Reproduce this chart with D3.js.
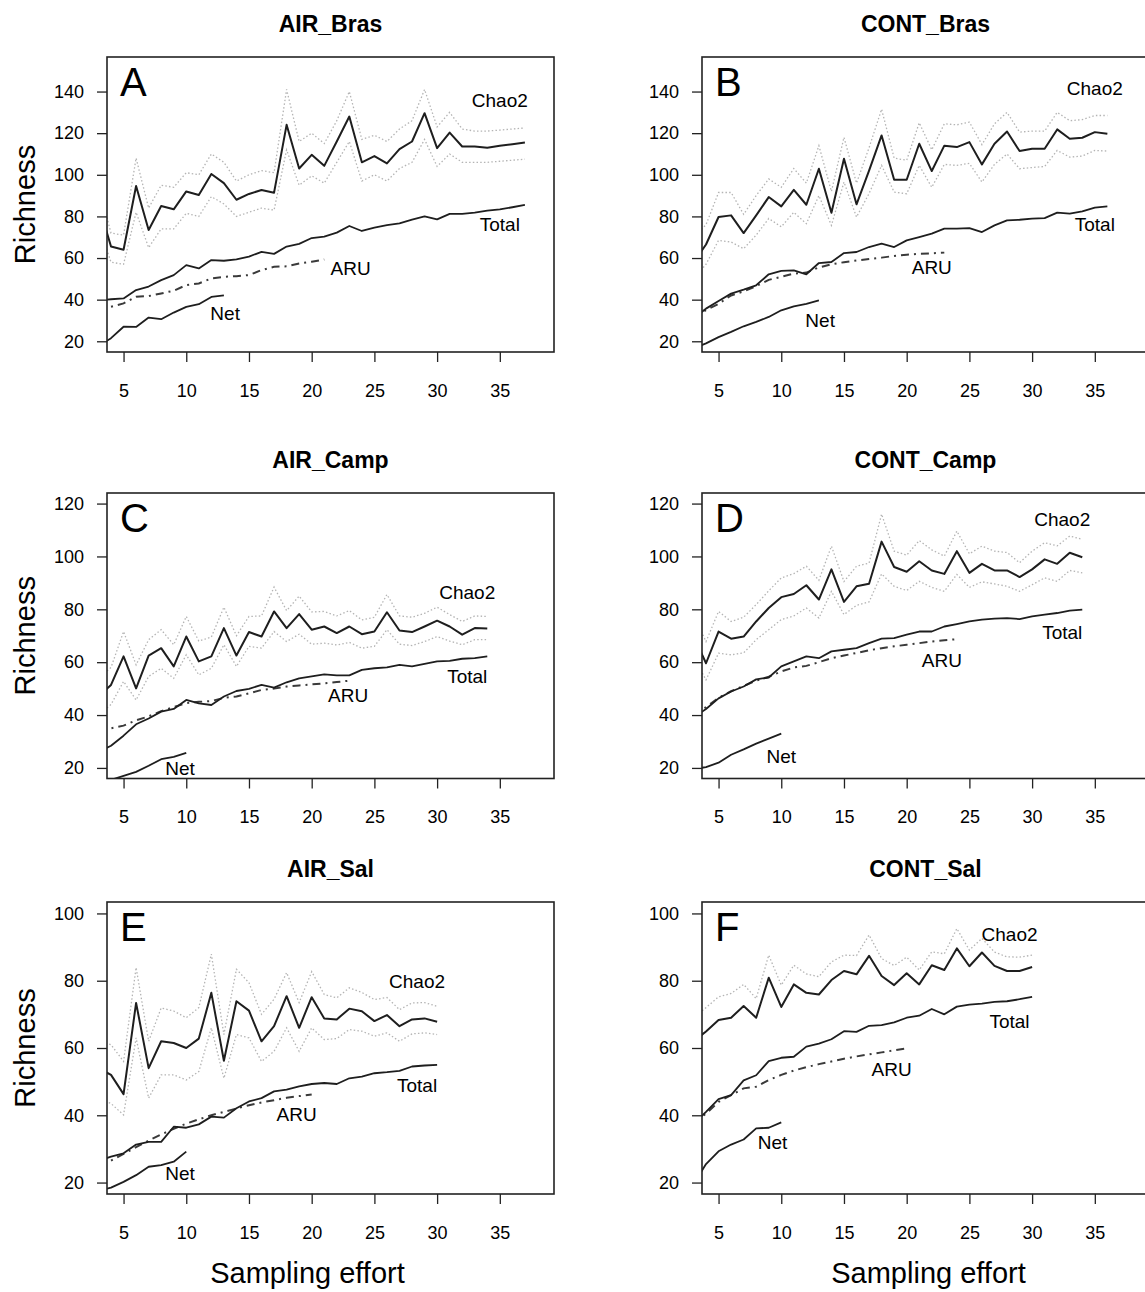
<!DOCTYPE html>
<html>
<head>
<meta charset="utf-8">
<script src="https://cdn.jsdelivr.net/npm/d3@7/dist/d3.min.js"></script>
<style>
  body { margin: 0; background: #fff; }
  text { font-family: "Liberation Sans", Arial, Helvetica, sans-serif; fill: #000; }
</style>
</head>
<body>
<svg id="chart"></svg>
<script>
// every series starts at sampling effort 3 (first point is clipped by the box)
const firstX = 3;
const xTicks = [5, 10, 15, 20, 25, 30, 35];

// A - AIR_Bras
const chaoA = [86, 65.5, 64, 94.6, 73.5, 85, 83.4, 92, 90.3, 100.4, 96, 88, 90.8, 92.7, 91.4, 124, 103, 109.6, 104.3, 116, 128, 106, 109, 105.5, 112.3, 116, 129.6, 112.8, 120.3, 113.6, 113.6, 113, 113.9, 114.7, 115.5];
const upA = [95, 72, 71, 108, 84, 95, 94, 101, 100, 110, 106, 97, 100, 102, 101, 141, 116, 120, 115, 126, 140, 117, 119, 116, 122, 126, 141, 123, 130, 122, 121, 121, 121.5, 122, 122.5];
const loA = [76, 58, 57, 82, 65, 74, 74, 81.5, 80, 89.5, 86, 80, 82, 84, 83, 112, 95, 99.5, 96, 106, 116, 97, 100, 97, 103, 106, 117, 104, 110, 106, 106, 106, 106.5, 107, 107.5];
const totA = [39.5, 40.2, 40.6, 44.6, 46.3, 49.4, 51.8, 56.6, 55, 59, 58.7, 59.4, 60.7, 63, 62, 65.5, 66.8, 69.6, 70.3, 72.2, 75.4, 73, 74.6, 75.8, 76.7, 78.5, 80, 78.6, 81.2, 81.2, 81.8, 82.8, 83.4, 84.4, 85.5];
const aruA = [35, 36.6, 38.2, 41.4, 41.7, 43, 44.3, 47, 47.8, 50.2, 51, 51.3, 51.8, 54.2, 55.8, 56, 57.4, 58.2, 59.3];
const netA = [17.7, 21.5, 27, 26.9, 31.4, 30.6, 33.8, 36.5, 37.8, 41.3, 42.1];

// B - CONT_Bras
const chaoB = [58, 66.5, 79.7, 80.5, 72, 80.5, 89.3, 84.8, 92.8, 85.6, 102.9, 81.8, 107.7, 85.8, 102, 118.9, 97.6, 97.6, 114.9, 101.8, 114, 113.3, 115.7, 105, 114.9, 120.8, 111.4, 112.5, 112.5, 121.8, 117.3, 117.8, 120.5, 119.7];
const upB = [70, 76, 91.5, 91.5, 81, 90, 98, 94, 103, 96, 114, 92, 118, 96, 113, 131.5, 108, 107, 125, 112, 124.5, 124, 125.3, 114.5, 124.5, 130, 120.5, 121, 121, 130, 126, 126.5, 128.5, 128.5];
const loB = [50, 57, 68.5, 67.7, 64.5, 71, 79, 75, 82, 76.5, 90, 75.7, 96.5, 79.7, 91, 104.5, 91.7, 90.9, 104.5, 94, 105, 104.5, 105.5, 96.5, 105, 110, 102.9, 103.5, 104, 111.7, 108.5, 109, 111.7, 111.4];
const totB = [31, 35.7, 39.4, 42.9, 44.8, 46.9, 52.2, 53.8, 54.1, 52.2, 57.6, 58.1, 62.4, 62.9, 65.3, 66.9, 65.3, 68.5, 70.1, 71.7, 74.1, 74.1, 74.4, 72.5, 75.7, 78.1, 78.4, 78.9, 79.2, 81.8, 81.3, 82.4, 84.2, 84.8];
const aruB = [31, 35, 38, 42, 44, 46.5, 49.5, 51, 52.5, 53, 55.5, 57, 58, 58.8, 59.5, 60.2, 61, 61.6, 62, 62.3, 62.6];
const netB = [16.5, 19, 22, 24.5, 27.2, 29.3, 31.7, 34.9, 36.8, 38, 39.7];

// C - AIR_Camp
const chaoC = [47, 51.4, 62.2, 50.1, 62.5, 65.3, 58.4, 69.7, 60.3, 62.2, 72.9, 62.5, 71.4, 69.7, 79.2, 72.9, 78.2, 72.3, 73.5, 71, 73.5, 70.6, 71.6, 78.9, 72, 71.4, 73.5, 75.7, 73.5, 70.4, 72.9, 72.7];
const upC = [54, 58, 71.6, 59, 68.5, 72.3, 66.6, 77.3, 68, 69.5, 80.8, 70, 77.3, 77.5, 88.4, 79.5, 85, 79, 79.2, 77.5, 79.5, 76, 77, 85.6, 77.5, 77, 78.5, 80.8, 78, 75.4, 77.5, 77.3];
const loC = [40, 44, 52.7, 45.7, 54.6, 57.7, 53.9, 62.8, 55.2, 57.7, 66.6, 58.4, 66, 65.3, 71.6, 67.8, 70.6, 66.8, 67.2, 66.5, 67.5, 65.3, 66, 72.3, 66.8, 66.3, 67.8, 69.7, 68, 66.6, 68.5, 68.5];
const totC = [26, 28.4, 32.2, 36.5, 38.7, 41.3, 42.3, 45.7, 44.4, 43.8, 47, 49.1, 49.9, 51.4, 50.4, 52.4, 53.9, 54.6, 55.4, 55, 55, 57.1, 57.7, 58, 59, 58.4, 59.4, 60.3, 60.5, 61.3, 61.5, 62.2];
const aruC = [35, 35, 36, 38, 39.5, 41.5, 43, 44.5, 45, 45.3, 46.5, 47, 48.2, 49.5, 50, 50.8, 51.2, 51.6, 52, 52.5, 53];
const netC = [14, 15.5, 17, 18.5, 20.8, 23.3, 24.2, 25.7];

// D - CONT_Camp
const chaoD = [70, 59.6, 71.6, 68.9, 69.7, 75.4, 80.5, 84.6, 85.8, 89.1, 83.7, 95.1, 82.8, 88.7, 89.7, 105.6, 96, 94.2, 98.2, 94.7, 93.4, 102, 93.8, 97.2, 94.7, 94.7, 92.2, 95.1, 98.9, 97.2, 101.4, 99.7];
const upD = [78, 67.8, 79.2, 75.4, 77, 81.8, 87, 91.9, 93.5, 96.3, 91, 103.9, 90.5, 96.3, 97.5, 116, 102, 100.5, 106, 102.5, 100.1, 109.6, 101, 103.9, 102, 101.5, 97.6, 102, 105.2, 104, 107.7, 106.5];
const loD = [62, 53.3, 63.4, 62.8, 63.5, 68.5, 72.3, 76.1, 77.5, 80.5, 76.7, 86.8, 78, 81.5, 82.8, 93.4, 88.7, 87.1, 90.6, 88.3, 86.8, 93.2, 88.3, 90.4, 89.6, 88.7, 86.8, 89.3, 91.9, 90.6, 94.7, 93.8];
const totD = [39, 42.3, 46.3, 48.9, 50.8, 53.5, 54.2, 58.4, 60.3, 62.2, 61.5, 64.1, 64.7, 65.3, 67.2, 68.9, 69.1, 70.4, 71.6, 71.6, 73.5, 74.4, 75.4, 76.1, 76.5, 76.7, 76.3, 77.3, 78, 78.6, 79.5, 79.9];
const aruD = [40, 43, 46.5, 49, 51, 53, 54.5, 56.5, 58, 58.6, 60, 61.5, 62.5, 63.5, 64.5, 65.3, 66, 66.6, 67.2, 67.8, 68.3, 68.7];
const netD = [19.6, 20.3, 22, 25, 27, 29.2, 31.1, 33];

// E - AIR_Sal
const chaoE = [54, 52, 46.3, 73.4, 54, 62, 61.5, 60, 62.8, 76.4, 56.2, 73.9, 71.1, 62, 66.5, 75.4, 66, 75.1, 68.8, 68.5, 71.7, 70.9, 68, 69.8, 66.5, 68.5, 68.8, 67.8];
const upE = [62, 61, 56, 83.9, 62, 71.9, 71, 69, 72, 87.9, 64, 83.4, 79.4, 70, 74.5, 82.4, 73.5, 82.7, 75.9, 74.9, 77.9, 76.5, 74.4, 75, 71.4, 73.4, 73.5, 72.4];
const loE = [45, 43.5, 40.1, 63, 45.1, 52, 52, 50.5, 53, 66, 51, 64, 63, 56, 59, 66, 59, 66, 62.5, 62.8, 65.5, 65, 63.5, 64.5, 62, 64.2, 64.5, 64];
const totE = [26.5, 27.7, 28.7, 31.3, 32.1, 32.1, 36.6, 36.3, 37.3, 39.6, 39.3, 42.1, 44.1, 45.1, 47.1, 47.6, 48.6, 49.3, 49.6, 49.3, 51, 51.5, 52.5, 52.8, 53.2, 54.5, 54.8, 55];
const aruE = [25.5, 26.5, 28.5, 30.5, 32.5, 34.3, 36, 37.5, 38.8, 40, 41, 42, 43, 43.8, 44.5, 45.2, 45.7, 46.2];
const netE = [17.5, 18.5, 20.2, 22.2, 24.7, 25.2, 26.2, 29.2];

// F - CONT_Sal (lower bound hidden under the Chao2 line)
const chaoF = [62, 64.9, 68.3, 69, 72.5, 69, 80.9, 72.2, 78.9, 76.4, 75.9, 80.2, 82.9, 81.9, 87.4, 81.4, 78.7, 82.2, 78.9, 84.6, 83.2, 89.6, 84.3, 88.4, 84.4, 82.9, 82.9, 84.1];
const upF = [69, 72, 75.2, 76.2, 78.9, 74.7, 87.6, 78.7, 84.6, 82, 81.2, 85.6, 87.6, 87.5, 93.6, 86.6, 84.5, 87, 83.2, 88.6, 88, 95.5, 89.1, 92.6, 88.5, 87.1, 87, 87.6];
const totF = [37.5, 41, 44.8, 46, 50.4, 51.9, 56.1, 57.1, 57.4, 60.4, 61.3, 62.6, 65, 64.8, 66.6, 66.8, 67.6, 69, 69.6, 71.6, 70, 72.3, 72.9, 73.2, 73.7, 73.9, 74.5, 75.2];
const aruF = [37.5, 40.5, 44, 46, 48, 48.5, 50.5, 52, 53.3, 54.3, 55.2, 56, 56.8, 57.5, 58.1, 58.7, 59.3, 59.9];
const netF = [19.5, 25.5, 29.3, 31.3, 32.8, 36.1, 36.3, 37.9];

// curve label anchors, in data units [effort, richness]
const labA = {Chao2: [35, 135.9], Total: [35, 76.4], ARU: [23.1, 55.2], Net: [13.1, 33.6]};
const labB = {Chao2: [35, 141.7], Total: [35, 76.4], ARU: [22, 55.7], Net: [13.1, 30.2]};
const labC = {Chao2: [32.4, 86.6], Total: [32.4, 54.8], ARU: [22.9, 47.6], Net: [9.5, 20]};
const labD = {Chao2: [32.4, 114.2], Total: [32.4, 71.4], ARU: [22.8, 60.8], Net: [10, 24.5]};
const labE = {Chao2: [28.4, 79.9], Total: [28.4, 49], ARU: [18.8, 40.4], Net: [9.5, 22.8]};
const labF = {Chao2: [28.2, 93.9], Total: [28.2, 68], ARU: [18.8, 53.8], Net: [9.3, 32.1]};

const panels = [
  {letter: 'A', title: 'AIR_Bras',  col: 0, row: 0, yDomain: [14.85, 156.6], yTicks: [20, 40, 60, 80, 100, 120, 140], chao: chaoA, up: upA, lo: loA, total: totA, aru: aruA, net: netA, lab: labA},
  {letter: 'B', title: 'CONT_Bras', col: 1, row: 0, yDomain: [14.85, 156.6], yTicks: [20, 40, 60, 80, 100, 120, 140], chao: chaoB, up: upB, lo: loB, total: totB, aru: aruB, net: netB, lab: labB},
  {letter: 'C', title: 'AIR_Camp',  col: 0, row: 1, yDomain: [16, 124], yTicks: [20, 40, 60, 80, 100, 120], chao: chaoC, up: upC, lo: loC, total: totC, aru: aruC, net: netC, lab: labC},
  {letter: 'D', title: 'CONT_Camp', col: 1, row: 1, yDomain: [16, 124], yTicks: [20, 40, 60, 80, 100, 120], chao: chaoD, up: upD, lo: loD, total: totD, aru: aruD, net: netD, lab: labD},
  {letter: 'E', title: 'AIR_Sal',   col: 0, row: 2, yDomain: [16.6, 103.4], yTicks: [20, 40, 60, 80, 100], chao: chaoE, up: upE, lo: loE, total: totE, aru: aruE, net: netE, lab: labE},
  {letter: 'F', title: 'CONT_Sal',  col: 1, row: 2, yDomain: [16.6, 103.4], yTicks: [20, 40, 60, 80, 100], chao: chaoF, up: upF, lo: null, total: totF, aru: aruF, net: netF, lab: labF}
];

const W = 1145, H = 1292;
const colLeft = [107, 702], plotW = 447;
const rows = [{top: 57, bottom: 352}, {top: 493, bottom: 778.5}, {top: 902, bottom: 1194}];

const svg = d3.select('#chart').attr('width', W).attr('height', H);

panels.forEach((p, k) => {
  const left = colLeft[p.col], top = rows[p.row].top, height = rows[p.row].bottom - top;
  const g = svg.append('g').attr('transform', 'translate(' + left + ',' + top + ')');

  const x = d3.scaleLinear().domain([3.68, 39.32]).range([0, plotW]);
  const y = d3.scaleLinear().domain(p.yDomain).range([height, 0]);

  g.append('clipPath').attr('id', 'clip' + k)
    .append('rect').attr('width', plotW).attr('height', height);

  const line = d3.line()
    .x((d, i) => x(firstX + i))
    .y(d => y(d));

  const plot = g.append('g').attr('clip-path', 'url(#clip' + k + ')');

  // confidence bounds of Chao2
  [p.up, p.lo].forEach(s => {
    if (!s) return;
    plot.append('path').datum(s)
      .attr('fill', 'none').attr('stroke', '#b4b4b4')
      .attr('stroke-width', 1.3).attr('stroke-dasharray', '1.5,2.2')
      .attr('d', line);
  });

  plot.append('path').datum(p.chao)
    .attr('fill', 'none').attr('stroke', '#1e1e1e').attr('stroke-width', 2)
    .attr('stroke-linejoin', 'round').attr('d', line);

  plot.append('path').datum(p.aru)
    .attr('fill', 'none').attr('stroke', '#3a3a3a').attr('stroke-width', 2)
    .attr('stroke-dasharray', '8,5,2,5').attr('d', line);

  plot.append('path').datum(p.total)
    .attr('fill', 'none').attr('stroke', '#1e1e1e').attr('stroke-width', 1.8)
    .attr('stroke-linejoin', 'round').attr('d', line);

  plot.append('path').datum(p.net)
    .attr('fill', 'none').attr('stroke', '#1e1e1e').attr('stroke-width', 1.8)
    .attr('stroke-linejoin', 'round').attr('d', line);

  // curve labels
  Object.keys(p.lab).forEach(name => {
    g.append('text')
      .attr('x', x(p.lab[name][0])).attr('y', y(p.lab[name][1]))
      .attr('text-anchor', 'middle').attr('dy', '0.35em')
      .style('font-size', '19px')
      .text(name);
  });

  // axes
  const yAxis = g.append('g')
    .call(d3.axisLeft(y).tickValues(p.yTicks).tickSize(10).tickPadding(13).tickSizeOuter(0));
  const xAxis = g.append('g')
    .attr('transform', 'translate(0,' + height + ')')
    .call(d3.axisBottom(x).tickValues(xTicks).tickSize(10).tickPadding(22).tickSizeOuter(0));
  [yAxis, xAxis].forEach(a => {
    a.select('.domain').remove();
    a.selectAll('line').attr('stroke', '#222').attr('stroke-width', 1.3);
    a.selectAll('text').style('font-size', '18px').style('font-family', '"Liberation Sans", Arial, sans-serif').attr('fill', '#000');
  });

  g.append('rect')
    .attr('width', plotW).attr('height', height)
    .attr('fill', 'none').attr('stroke', '#222').attr('stroke-width', 1.6);

  g.append('text')
    .attr('x', 13).attr('y', 39)
    .style('font-size', '40px')
    .text(p.letter);

  g.append('text')
    .attr('x', plotW / 2).attr('y', -25)
    .attr('text-anchor', 'middle')
    .style('font-size', '23px').style('font-weight', 'bold')
    .text(p.title);

  if (p.col === 0) {
    svg.append('text')
      .attr('transform', 'translate(25,' + (top + height / 2) + ') rotate(-90)')
      .attr('text-anchor', 'middle').attr('dy', '0.35em')
      .style('font-size', '29px')
      .text('Richness');
  }

  if (p.row === 2) {
    svg.append('text')
      .attr('x', p.col === 0 ? 307.5 : 928.5).attr('y', 1283)
      .attr('text-anchor', 'middle')
      .style('font-size', '29px')
      .text('Sampling effort');
  }
});
</script>
</body>
</html>
